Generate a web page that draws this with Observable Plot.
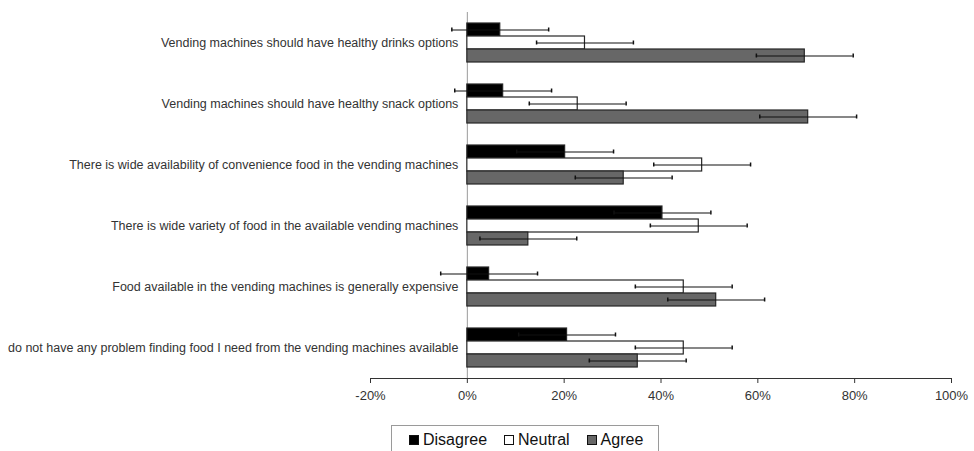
<!DOCTYPE html>
<html>
<head>
<meta charset="utf-8">
<script src="https://cdn.jsdelivr.net/npm/d3@7"></script>
<script src="https://cdn.jsdelivr.net/npm/@observablehq/plot@0.6"></script>
<style>
  html, body { margin: 0; padding: 0; background: #fff; }
  body { width: 974px; height: 451px; position: relative; overflow: hidden; font-family: "Liberation Sans", Arial, sans-serif; }
  #chart svg { display: block; }
  #legend { position: absolute; left: 391px; top: 425px; width: 268px; height: 32px; border: 1px solid #9a9a9a; box-sizing: border-box;
            display: flex; align-items: center; padding-left: 17px; padding-bottom: 3px; font-size: 16px; color: #111; }
  .item { display: flex; align-items: center; margin-right: 17px; }
  .sw { width: 8px; height: 8px; border: 1px solid #111; margin-right: 4px; }
</style>
</head>
<body>
<div id="chart"></div>
<div id="legend"></div>
<script>
const questions = [
  "Vending machines should have healthy drinks options",
  "Vending machines should have healthy snack options",
  "There is wide availability of convenience food in the vending machines",
  "There is wide variety of food in the available vending machines",
  "Food available in the vending machines is generally expensive",
  "do not have any problem finding food I need from the vending machines available"
];
const series = ["Disagree", "Neutral", "Agree"];
const seriesColors = ["#000000", "#ffffff", "#676767"];
const disagree = [6.8, 7.4, 20.2, 40.3, 4.5, 20.6];
const neutral  = [24.3, 22.8, 48.5, 47.8, 44.7, 44.7];
const agree    = [69.7, 70.4, 32.3, 12.6, 51.4, 35.2];
const disagreeErr = [10, 10, 10, 10, 10, 10];
const neutralErr  = [10, 10, 10, 10, 10, 10];
const agreeErr    = [10, 10, 10, 10, 10, 10];
const xTicks = [-20, 0, 20, 40, 60, 80, 100];

const values = [disagree, neutral, agree];
const errs = [disagreeErr, neutralErr, agreeErr];
const rows = questions.flatMap((q, i) => series.map((s, j) => ({
  question: q, response: s, value: values[j][i], lo: values[j][i] - errs[j][i], hi: values[j][i] + errs[j][i]
})));

const chart = Plot.plot({
  width: 974,
  height: 420,
  marginLeft: 370,
  marginRight: 23,
  marginTop: 11,
  marginBottom: 41,
  style: { fontFamily: "'Liberation Sans', Arial, sans-serif", fontSize: "13px", color: "#333", background: "#fff" },
  x: { domain: [-20, 100], ticks: xTicks, tickFormat: d => d + "%", tickSize: 5, tickPadding: 7, line: true, label: null },
  fy: { domain: questions, padding: 0, axis: null },
  y: { domain: series, paddingInner: 0, paddingOuter: 0.8, axis: null },
  color: { domain: series, range: seriesColors },
  marks: [
    Plot.ruleX([0], { stroke: "#9a9a9a", strokeWidth: 1 }),
    Plot.barX(rows, { fy: "question", y: "response", x: "value", fill: "response", stroke: "#262626", strokeWidth: 1.2 }),
    Plot.ruleY(rows, { fy: "question", y: "response", x1: "lo", x2: "hi", stroke: "#111", strokeWidth: 1.2 }),
    Plot.tickX(rows, { fy: "question", y: "response", x: "lo", stroke: "#111", strokeWidth: 1.5, insetTop: 4.5, insetBottom: 4.5 }),
    Plot.tickX(rows, { fy: "question", y: "response", x: "hi", stroke: "#111", strokeWidth: 1.5, insetTop: 4.5, insetBottom: 4.5 }),
    Plot.text(questions, { fy: d => d, x: () => 0, text: d => d, textAnchor: "end", dx: -9, fontSize: 12.5, fill: "#333" })
  ]
});
document.getElementById("chart").appendChild(chart);

const legend = document.getElementById("legend");
series.forEach((s, j) => {
  const it = document.createElement("div");
  it.className = "item";
  const sw = document.createElement("div");
  sw.className = "sw";
  sw.style.background = seriesColors[j];
  const t = document.createElement("span");
  t.textContent = s;
  it.appendChild(sw); it.appendChild(t);
  legend.appendChild(it);
});
</script>
</body>
</html>
